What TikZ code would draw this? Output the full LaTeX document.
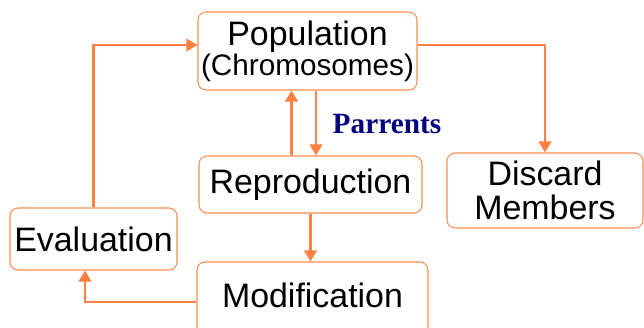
\documentclass[tikz,border=0pt]{standalone}
\usepackage{fontspec}
\setmainfont{Liberation Sans}
\newfontfamily\parfont{Liberation Serif}
\usetikzlibrary{arrows.meta}
\definecolor{boxorange}{RGB}{255,140,80}
\definecolor{arrorange}{RGB}{255,128,64}
\definecolor{parblue}{RGB}{0,0,128}

\begin{document}
\begin{tikzpicture}[
box/.style={draw=boxorange,line width=0.6pt,rounded corners=0.16cm,align=center,inner sep=0pt,font=\fontsize{19.3}{19.3}\selectfont},
arr/.style={draw=arrorange,line width=1.4pt,-{Triangle[width=0.25cm,length=0.22cm]}}]
\useasboundingbox (0,0) rectangle (12.88,6.54);
\path
(6.15,5.52) node[box,minimum width=4.38cm,minimum height=1.56cm] (pop)
  {Population\\[-0.08cm]{\fontsize{16.9}{16.9}\selectfont(Chromosomes)}}
(6.21,2.85) node[box,minimum width=4.46cm,minimum height=1.14cm] (rep) {Reproduction}
(10.9,2.73) node[box,minimum width=3.92cm,minimum height=1.5cm] (dis) {Discard\\Members}
(1.87,1.76) node[box,minimum width=3.34cm,minimum height=1.24cm] (eva) {Evaluation}
(6.25,0.5) node[box,minimum width=4.62cm,minimum height=1.6cm,text depth=0.28cm] (mod) {Modification}
(7.74,4.06) node[text=parblue,font=\parfont\bfseries\fontsize{16.7}{16.7}\selectfont] (par) {Parrents};
% loop round the boxes
\draw[arr] (eva.north) |- ([yshift=0.12cm]pop.west);
\draw[arr] ([yshift=0.12cm]pop.east) -| (dis.north);
\draw[arr] ([xshift=0.17cm]pop.south) -- ([xshift=0.17cm]pop.south |- rep.north);
\draw[arr] ([xshift=-0.38cm]rep.north) -- ([xshift=-0.38cm]rep.north |- pop.south);
\draw[arr] (rep.south) -- (rep.south |- mod.north);
\draw[arr] (mod.west) -| ([xshift=-0.17cm]eva.south);
%\draw[arr] (mod.west) -- (eva.south);
\end{tikzpicture}
\end{document}
